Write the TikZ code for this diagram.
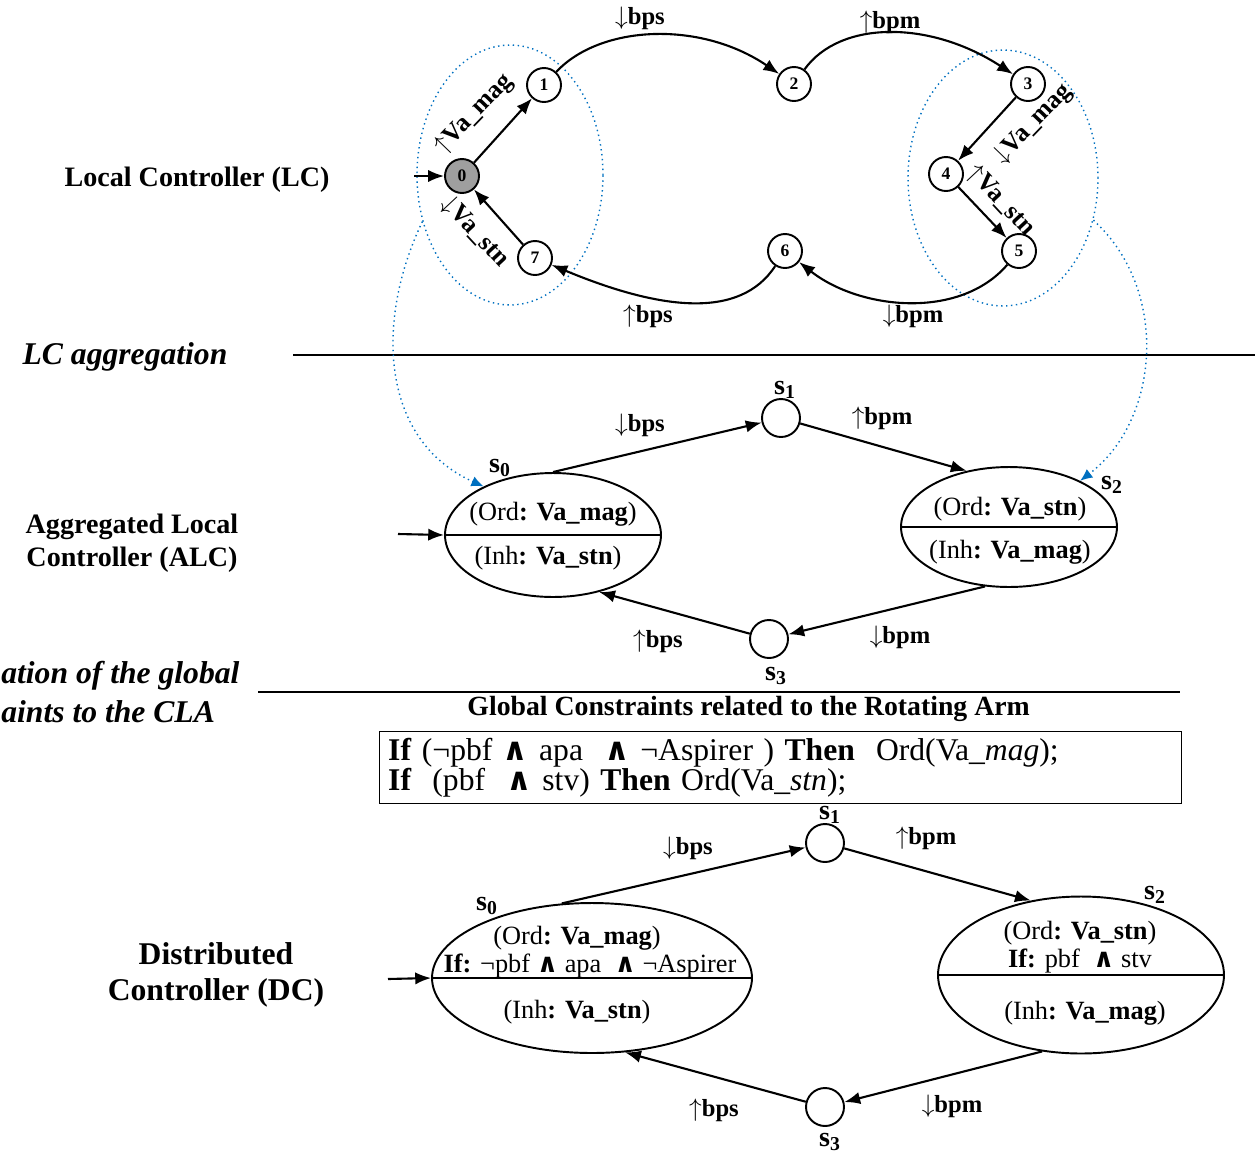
\documentclass[tikz,border=0pt]{standalone}
\usepackage{fontspec}
\setmainfont{Liberation Serif}
\newfontfamily\andfont{DejaVu Sans}
\usepackage{tikz}
\usetikzlibrary{arrows.meta}
\usetikzlibrary{shapes.geometric}
\usetikzlibrary{positioning}

\definecolor{linkblue}{RGB}{0,112,192}
\newcommand{\andsym}{{\andfont\bfseries ∧}}
\newcommand{\sname}[1]{\textbf{s\textsubscript{#1}}}
\newcommand{\up}{$\uparrow$}
\newcommand{\dn}{$\downarrow$}

\tikzset{
  lcstate/.style={circle, draw, line width=1.1pt, minimum size=0.68cm, inner sep=0pt,
    font=\bfseries\fontsize{10}{10}\selectfont},
  junc/.style={circle, draw, line width=1.1pt, minimum size=0.76cm, inner sep=0pt},
  bigstate/.style={ellipse, draw, line width=1.1pt, inner sep=0pt},
  trans/.style={line width=1.2pt, -{Latex[length=9pt,width=7pt]}},
  zone/.style={ellipse, draw=linkblue, dotted, line width=0.8pt, inner sep=0pt},
  link/.style={draw=linkblue, dotted, line width=0.8pt, -{Latex[length=7pt,width=6pt]}},
  lbl/.style={font=\fontsize{14}{14}\selectfont},
  vlbl/.style={font=\fontsize{14.5}{14.5}\selectfont, inner sep=1pt},
  stxt/.style={font=\fontsize{15}{15}\selectfont, inner sep=0pt},
  slbl/.style={font=\fontsize{16}{16}\selectfont, inner sep=0pt},
  sidelabel/.style={font=\bfseries\fontsize{16}{18.5}\selectfont, align=center},
  stage/.style={font=\bfseries\itshape\fontsize{18}{20.5}\selectfont, align=right},
  divider/.style={line width=1.6pt},
}

\begin{document}
\begin{tikzpicture}[x=0.02cm, y=-0.02cm]
  \useasboundingbox (0,0) rectangle (1255,1160);

  % local controller
  \node[lcstate, fill=gray!75] (q0) at (462,176) {0};
  \node[lcstate] (q1) at (544,85) {1};
  \node[lcstate] (q2) at (794,84) {2};
  \node[lcstate] (q3) at (1028,84) {3};
  \node[lcstate] (q4) at (946,174) {4};
  \node[lcstate] (q5) at (1019,251) {5};
  \node[lcstate] (q6) at (785,251) {6};
  \node[lcstate] (q7) at (535,258) {7};
  \node[zone, minimum width=3.72cm, minimum height=5.2cm] (zoneL) at (510,175) {};
  \node[zone, minimum width=3.8cm, minimum height=5.12cm] (zoneR) at (1003,178) {};

  \coordinate (q0in) at (414,176);
  \draw[trans] (q0in) -- (q0);
  \draw[trans] (q0) -- (q1);
  \draw[trans] (q1) .. controls (600,25) and (700,20) .. (q2);
  \draw[trans] (q2) .. controls (840,20) and (930,20) .. (q3);
  \draw[trans] (q3) -- (q4);
  \draw[trans] (q4) -- (q5);
  \draw[trans] (q5) .. controls (960,320) and (860,310) .. (q6);
  \draw[trans] (q6) .. controls (740,320) and (660,310) .. (q7);
  \draw[trans] (q7) -- (q0);
  \node[vlbl, rotate=46] (l01) at (474,114) {\up\textbf{Va\_mag}};
  \node[vlbl, rotate=46] (l34) at (1033,124) {\dn\textbf{Va\_mag}};
  \node[vlbl, rotate=-47] (l45) at (1001,201) {\up\textbf{Va\_stn}};
  \node[vlbl, rotate=-47] (l70) at (475,232) {\dn\textbf{Va\_stn}};
  \node[lbl] (l12) at (640,18) {\dn\textbf{bps}};
  \node[lbl] (l23) at (890,22) {\up\textbf{bpm}};
  \node[lbl] (l56) at (913,316) {\dn\textbf{bpm}};
  \node[lbl] (l67) at (648,316) {\up\textbf{bps}};

  \node[sidelabel] (lc) at (197,180) {Local Controller (LC)};
  \node[stage] (agg) at (125,357) {LC aggregation};
  \draw[divider] (293,355) -- (1255,355);

  % aggregated local controller
  \node[bigstate, minimum width=4.32cm, minimum height=2.48cm] (a0) at (553,535) {};
  \node[bigstate, minimum width=4.32cm, minimum height=2.4cm] (a2) at (1009,527) {};
  \node[junc] (a1) at (781,418) {};
  \node[junc] (a3) at (769,639) {};
  \draw[line width=1.1pt] (a0.west) -- (a0.east);
  \draw[line width=1.1pt] (a2.west) -- (a2.east);
  \node[stxt] (a0ord) at (553,514) {(Ord\textbf{: Va\_mag})};
  \node[stxt] (a0inh) at (548,558) {(Inh\textbf{: Va\_stn})};
  \node[stxt] (a2ord) at (1010,509) {(Ord\textbf{: Va\_stn})};
  \node[stxt] (a2inh) at (1010,552) {(Inh\textbf{: Va\_mag})};
  \node[slbl] (a0name) at (500,468) {\sname{0}};
  \node[slbl] (a1name) at (785,390) {\sname{1}};
  \node[slbl] (a2name) at (1112,485) {\sname{2}};
  \node[slbl] (a3name) at (776,676) {\sname{3}};

  \coordinate (a0in) at (398,534);
  \draw[trans] (a0in) -- (a0.west);
  \draw[trans] (a0.north) -- (a1);
  \draw[trans] (a1) -- (a2.127);
  \draw[trans] (a2.248) -- (a3);
  \draw[trans] (a3) -- (a0.-51);
  \node[lbl] (la01) at (640,425) {\dn\textbf{bps}};
  \node[lbl] (la12) at (882,418) {\up\textbf{bpm}};
  \node[lbl] (la23) at (900,637) {\dn\textbf{bpm}};
  \node[lbl] (la30) at (658,641) {\up\textbf{bps}};

  \draw[link] (zoneL.208) .. controls (375,320) and (380,440) .. (a0.145);
  \draw[link] (zoneR.-25) .. controls (1170,290) and (1160,420) .. (a2.33);

  \node[sidelabel] (alc) at (132,543) {Aggregated Local\\Controller (ALC)};
  \node[stage, anchor=west, inner xsep=0pt] (glob1) at (1,676) {ation of the global};
  \node[stage, anchor=west, inner xsep=0pt] (glob2) at (1,712) {aints to the CLA};
  \draw[divider] (258,692) -- (1180,692);

  % global constraints
  \node[draw, line width=0.8pt, anchor=north west, text width=15.7cm, minimum height=1.44cm,
    inner xsep=0.17cm, inner ysep=0pt, align=left, font=\fontsize{18}{17}\selectfont]
    (cbox) at (379,731)
    {\textbf{If} (¬pbf \andsym{} apa~ \andsym{} ¬Aspirer ) \textbf{Then}~ Ord(Va\_\textit{mag});\\
     \textbf{If}~ (pbf~ \andsym{} stv) \textbf{Then} Ord(Va\_\textit{stn});};
  \node[font=\bfseries\fontsize{15.8}{15.8}\selectfont, above=2pt of cbox, xshift=-0.64cm] (ctitle)
    {Global Constraints related to the Rotating Arm};

  % distributed controller
  \node[bigstate, minimum width=6.4cm, minimum height=3.0cm] (d0) at (592,978) {};
  \node[bigstate, minimum width=5.72cm, minimum height=3.14cm] (d2) at (1081,975) {};
  \node[junc] (d1) at (825,843) {};
  \node[junc] (d3) at (825,1107) {};
  \draw[line width=1.1pt] (d0.west) -- (d0.east);
  \draw[line width=1.1pt] (d2.west) -- (d2.east);
  \node[stxt] (d0ord) at (577,938) {(Ord\textbf{: Va\_mag})};
  \node[stxt] (d0if) at (590,966) {\textbf{If:} ¬pbf \andsym{} apa~ \andsym{} ¬Aspirer};
  \node[stxt] (d0inh) at (577,1012) {(Inh\textbf{: Va\_stn})};
  \node[stxt] (d2ord) at (1080,933) {(Ord\textbf{: Va\_stn})};
  \node[stxt] (d2if) at (1080,961) {\textbf{If:} pbf~ \andsym{} stv};
  \node[stxt] (d2inh) at (1085,1013) {(Inh\textbf{: Va\_mag})};
  \node[slbl] (d0name) at (487,906) {\sname{0}};
  \node[slbl] (d1name) at (830,815) {\sname{1}};
  \node[slbl] (d2name) at (1155,895) {\sname{2}};
  \node[slbl] (d3name) at (830,1142) {\sname{3}};

  \coordinate (d0in) at (388,979);
  \draw[trans] (d0in) -- (d0.west);
  \draw[trans] (d0.112) -- (d1);
  \draw[trans] (d1) -- (d2.124);
  \draw[trans] (d2.243) -- (d3);
  \draw[trans] (d3) -- (d0.-66);
  \node[lbl] (ld01) at (688,848) {\dn\textbf{bps}};
  \node[lbl] (ld12) at (926,838) {\up\textbf{bpm}};
  \node[lbl] (ld23) at (952,1106) {\dn\textbf{bpm}};
  \node[lbl] (ld30) at (714,1110) {\up\textbf{bps}};

  \node[sidelabel, font=\bfseries\fontsize{18}{20.5}\selectfont] (dc) at (216,975)
    {Distributed\\Controller (DC)};
\end{tikzpicture}
\end{document}
